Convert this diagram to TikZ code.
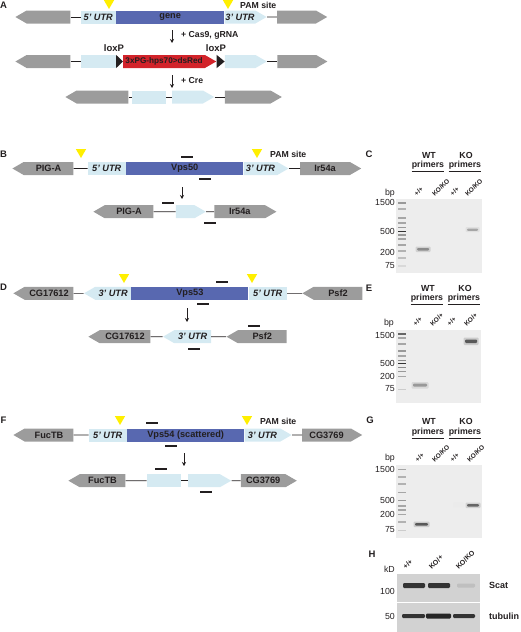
\documentclass[tikz,border=0pt]{standalone}
\usepackage{fontspec}
\setmainfont{Liberation Sans}
\usetikzlibrary{positioning,arrows.meta,shapes.geometric,shapes.symbols,calc}

\definecolor{genegray}{HTML}{9C9C9C}
\definecolor{utrblue}{HTML}{D5EAF2}
\definecolor{cdsblue}{HTML}{5868B0}
\definecolor{dsred}{HTML}{D2232A}
\definecolor{pamyellow}{HTML}{FFEF00}
\definecolor{gelbg}{HTML}{EDEDED}
\definecolor{blotbg}{HTML}{D2D2D2}
\definecolor{ink}{HTML}{231F20}

\begin{document}
\begin{tikzpicture}[
        x=1pt, y=-1pt,
        font=\fontsize{9.2}{11}\selectfont\bfseries, text=ink,
        nb/.style={signal, signal pointer angle=60, fill=genegray, minimum height=13pt, inner sep=0pt},
        nbw/.style={nb, signal to=west},
        nbe/.style={nb, signal to=east},
        utr/.style={rectangle, fill=utrblue, minimum height=13pt, inner sep=0pt, font=\fontsize{9.2}{11}\selectfont\bfseries\itshape},
        utrw/.style={utr, signal, signal pointer angle=60, signal to=west},
        utre/.style={utr, signal, signal pointer angle=60, signal to=east},
        cds/.style={rectangle, fill=cdsblue, minimum height=13pt, inner sep=0pt},
        link/.style={draw=ink, line width=0.6pt},
        pam/.style={regular polygon, regular polygon sides=3, shape border rotate=180, fill=pamyellow, minimum size=12pt, inner sep=0pt},
        primer/.style={rectangle, fill=ink, minimum width=12pt, minimum height=1.8pt, inner sep=0pt},
        line/.style={-{Stealth[length=4pt, width=4pt]}, line width=0.7pt, draw=ink},
        panel/.style={inner sep=0pt, font=\fontsize{9.5}{11}\selectfont\bfseries},
        note/.style={anchor=west, inner sep=0pt, font=\fontsize{8.7}{10}\selectfont\bfseries},
        hd/.style={inner sep=0pt, font=\fontsize{8.8}{10}\selectfont\bfseries},
        ul/.style={draw=ink, line width=0.6pt},
        lane/.style={rotate=45, anchor=south west, inner sep=0pt, font=\fontsize{6.5}{7}\selectfont\bfseries},
        mk/.style={anchor=east, inner sep=0pt, font=\fontsize{8.8}{10}\selectfont},
        gel/.style={rectangle, fill=gelbg, inner sep=0pt, anchor=north west},
        blot/.style={rectangle, fill=blotbg, inner sep=0pt, anchor=north west}
    ]
    \useasboundingbox (0,0) rectangle (520,632);

    % ---- A: knock-in scheme
    \node[panel] (lA) at (3.5,5) {A};
    \node[nbw, minimum width=55pt, anchor=west] (gA1) at (15,17) {};
    \node[utr, minimum width=35pt, right=10pt of gA1] (u5A) {5' UTR};
    \node[cds, minimum width=108pt, right=0pt of u5A] (geneA) {gene};
    \node[utre, minimum width=42pt, right=0pt of geneA] (u3A) {3' UTR};
    \node[nbe, minimum width=50pt, right=10pt of u3A] (gA2) {};
    \draw[link] (gA1) -- (u5A);
    \draw[link] (u3A) -- (gA2);
    \node[pam] (pA1) at (109,3) {};
    \node[pam] (pA2) at (228,3) {};
    \node[note] (pamA) at (240,5.5) {PAM site};

    \coordinate (a1) at (172,30);
    \draw[line] (a1) -- ++(0,13);
    \node[note] (cas) at (181,35.5) {+ Cas9, gRNA};

    \node[nbw, minimum width=55pt, anchor=west] (gA3) at (15,61.5) {};
    \node[utr, minimum width=35pt, right=10pt of gA3] (u5A2) {};
    \node[nbe, fill=dsred, minimum width=93pt, right=7pt of u5A2, font=\fontsize{8.2}{10}\selectfont\bfseries] (red) {3xPG-hps70>dsRed};
    \node[utre, minimum width=42pt, right=8pt of red] (u3A2) {};
    \node[nbe, minimum width=50pt, right=10pt of u3A2] (gA4) {};
    \draw[link] (gA3) -- (u5A2);
    \draw[link] (u3A2) -- (gA4);
    \fill[ink] (u5A2.north east) -- (u5A2.south east) -- (red.west) -- cycle;
    \fill[ink] (red.east |- red.north) -- (red.east |- red.south) -- (u3A2.west) -- cycle;
    \node[hd, font=\fontsize{9.5}{11}\selectfont\bfseries] (lox1) at (114,48) {loxP};
    \node[hd, font=\fontsize{9.5}{11}\selectfont\bfseries] (lox2) at (216,48) {loxP};

    \coordinate (a2) at (172,75);
    \draw[line] (a2) -- ++(0,13);
    \node[note] (cre) at (181,80.5) {+ Cre};

    \node[nbw, minimum width=63pt, anchor=west] (gA5) at (65,97) {};
    \node[utr, minimum width=34pt, right=3pt of gA5] (u5A3) {};
    \node[utre, minimum width=42pt, right=6pt of u5A3] (u3A3) {};
    \node[nbe, minimum width=57pt, right=10pt of u3A3] (gA6) {};
    \draw[link] (gA5) -- (u5A3);
    \draw[link] (u5A3) -- (u3A3);
    \draw[link] (u3A3) -- (gA6);

    % ---- B: Vps50
    \node[panel] (lB) at (3.5,154) {B};
    \node[nbw, minimum width=61pt, anchor=west] (pigB) at (12,168.5) {PIG-A};
    \node[utr, minimum width=38pt, right=14pt of pigB] (u5B) {5' UTR};
    \node[cds, minimum width=117pt, right=0pt of u5B] (vpsB) {Vps50};
    \node[utre, minimum width=45pt, right=0pt of vpsB] (u3B) {3' UTR};
    \node[nbe, minimum width=61pt, right=11pt of u3B] (irB) {Ir54a};
    \draw[link] (pigB) -- (u5B);
    \draw[link] (u3B) -- (irB);
    \node[pam] (pB1) at (81,152) {};
    \node[pam] (pB2) at (257,152) {};
    \node[note] (pamB) at (270,154.5) {PAM site};
    \node[primer] (fB) at (186.5,156.7) {};
    \node[primer] (rB) at (205,179) {};

    \coordinate (b1) at (182,187);
    \draw[line] (b1) -- ++(0,12);

    \node[nbw, minimum width=60pt, anchor=west] (pigB2) at (93,211.7) {PIG-A};
    \node[utre, minimum width=30pt, right=22pt of pigB2] (u3B2) {};
    \node[nbe, minimum width=62pt, right=8pt of u3B2] (irB2) {Ir54a};
    \draw[link] (pigB2) -- (u3B2);
    \draw[link] (u3B2) -- (irB2);
    \node[primer] (fB2) at (168,202.7) {};
    \node[primer] (rB2) at (210,223) {};

    % ---- D: Vps53
    \node[panel] (lD) at (3.5,287) {D};
    \node[nbw, minimum width=60pt, anchor=west] (cgD) at (13,293.3) {CG17612};
    \node[utrw, minimum width=47pt, right=10pt of cgD] (u3D) {3' UTR};
    \node[cds, minimum width=117pt, right=0pt of u3D] (vpsD) {Vps53};
    \node[utr, minimum width=38pt, right=0pt of vpsD] (u5D) {5' UTR};
    \node[nbw, minimum width=60pt, right=15pt of u5D] (psfD) {Psf2};
    \draw[link] (cgD) -- (u3D);
    \draw[link] (u5D) -- (psfD);
    \node[pam] (pD1) at (124,277) {};
    \node[pam] (pD2) at (252,277) {};
    \node[primer] (fD) at (222,281.7) {};
    \node[primer] (rD) at (203,304) {};

    \coordinate (d1) at (187,308);
    \draw[line] (d1) -- ++(0,14);

    \node[nbw, minimum width=62pt, anchor=west] (cgD2) at (88,336.7) {CG17612};
    \node[utrw, minimum width=48pt, right=12pt of cgD2] (u3D2) {3' UTR};
    \node[nbw, minimum width=60pt, right=15pt of u3D2] (psfD2) {Psf2};
    \draw[link] (cgD2) -- (u3D2);
    \draw[link] (u3D2) -- (psfD2);
    \node[primer] (fD2) at (254,326) {};
    \node[primer] (rD2) at (194,349) {};

    % ---- F: Vps54 (scattered)
    \node[panel] (lF) at (3.5,420) {F};
    \node[nbw, minimum width=60pt, anchor=west] (fucF) at (13,435) {FucTB};
    \node[utr, minimum width=38pt, right=15pt of fucF] (u5F) {5' UTR};
    \node[cds, minimum width=117pt, right=0pt of u5F] (vpsF) {Vps54 (scattered)};
    \node[utre, minimum width=47pt, right=0pt of vpsF] (u3F) {3' UTR};
    \node[nbe, minimum width=60pt, right=10pt of u3F] (cgF) {CG3769};
    \draw[link] (fucF) -- (u5F);
    \draw[link] (u3F) -- (cgF);
    \node[pam] (pF1) at (120,419) {};
    \node[pam] (pF2) at (247,419) {};
    \node[note] (pamF) at (260,421) {PAM site};
    \node[primer] (fF) at (152,423) {};
    \node[primer] (rF) at (171,446) {};

    \coordinate (f1) at (184,453);
    \draw[line] (f1) -- ++(0,13);

    \node[nbw, minimum width=57pt, anchor=west] (fucF2) at (68,480.7) {FucTB};
    \node[utr, minimum width=34pt, right=21pt of fucF2] (u5F2) {};
    \node[utre, minimum width=43pt, right=7pt of u5F2] (u3F2) {};
    \node[nbe, minimum width=56pt, right=9pt of u3F2] (cgF2) {CG3769};
    \draw[link] (fucF2) -- (u5F2);
    \draw[link] (u5F2) -- (u3F2);
    \draw[link] (u3F2) -- (cgF2);
    \node[primer] (fF2) at (161,469.3) {};
    \node[primer] (rF2) at (206,491.7) {};

    % ---- C: PCR, Vps50
    \node[panel] (lC) at (369,154) {C};
    \node[hd] (wtC) at (429,155) {WT};
    \node[hd] (pwC) at (428,165) {primers};
    \node[hd] (koC) at (466,155) {KO};
    \node[hd] (pkC) at (465,165) {primers};
    \draw[ul] ([yshift=-2pt]pwC.south west) -- ([yshift=-2pt]pwC.south east);
    \draw[ul] ([yshift=-2pt]pkC.south west) -- ([yshift=-2pt]pkC.south east);
    \node[lane] (c1) at (417,197) {+/+};
    \node[lane] (c2) at (435,197) {KO/KO};
    \node[lane] (c3) at (453,197) {+/+};
    \node[lane] (c4) at (468,197) {KO/KO};
    \node[mk] (bpC) at (395,193) {bp};
    \node[gel, minimum width=86pt, minimum height=74pt] (gelC) at (396,199) {};
    \foreach \y/\s in {202/40, 208/30, 217/35, 222/35, 226.5/40, 230.5/80, 234/40, 238/35, 244/35, 250/30, 257/25, 265/15}
        \fill[black!\s] (397.5,\y) rectangle (405.5,\y+1.7);
    \node[mk] at (395,202.5) {1500};
    \node[mk] at (395,231) {500};
    \node[mk] at (395,252) {200};
    \node[mk] at (395,265.5) {75};
    \fill[black!18, rounded corners=1pt] (415.5,246.5) rectangle (430.5,252);
    \fill[black!45, rounded corners=1pt] (417,248) rectangle (429,250.5);
    \fill[black!12, rounded corners=1pt] (465.5,227) rectangle (479.5,232);
    \fill[black!35, rounded corners=1pt] (467,228.5) rectangle (478,230.8);

    % ---- E: PCR, Vps53
    \node[panel] (lE) at (369,288) {E};
    \node[hd] (wtE) at (428,288) {WT};
    \node[hd] (pwE) at (427,298) {primers};
    \node[hd] (koE) at (465,288) {KO};
    \node[hd] (pkE) at (464,298) {primers};
    \draw[ul] ([yshift=-2pt]pwE.south west) -- ([yshift=-2pt]pwE.south east);
    \draw[ul] ([yshift=-2pt]pkE.south west) -- ([yshift=-2pt]pkE.south east);
    \node[lane] (e1) at (416,327) {+/+};
    \node[lane] (e2) at (433,327) {KO/+};
    \node[lane] (e3) at (450,327) {+/+};
    \node[lane] (e4) at (467,327) {KO/+};
    \node[mk] (bpE) at (394,323) {bp};
    \node[gel, minimum width=85pt, minimum height=73pt] (gelE) at (396,330) {};
    \foreach \y/\s in {333/60, 337/35, 343/35, 350/40, 355/35, 359.5/45, 362.5/80, 366.5/45, 370.5/40, 375.5/35, 388.5/20}
        \fill[black!\s] (397.5,\y) rectangle (405.5,\y+1.7);
    \node[mk] at (395,335) {1500};
    \node[mk] at (395,363) {500};
    \node[mk] at (395,376) {200};
    \node[mk] at (395,389) {75};
    \fill[black!15, rounded corners=1pt] (411.5,382) rectangle (428.5,388.5);
    \fill[black!40, rounded corners=1pt] (413,383.5) rectangle (427,386.5);
    \fill[black!20, rounded corners=1pt] (463.5,337.5) rectangle (478.5,345);
    \fill[black!65, rounded corners=1pt] (465,339.5) rectangle (477,343);
    \fill[black!7, rounded corners=2pt] (407,394) rectangle (445,399);

    % ---- G: PCR, Vps54
    \node[panel] (lG) at (370,420) {G};
    \node[hd] (wtG) at (429,421) {WT};
    \node[hd] (pwG) at (428,432) {primers};
    \node[hd] (koG) at (466,421) {KO};
    \node[hd] (pkG) at (465,432) {primers};
    \draw[ul] ([yshift=-2pt]pwG.south west) -- ([yshift=-2pt]pwG.south east);
    \draw[ul] ([yshift=-2pt]pkG.south west) -- ([yshift=-2pt]pkG.south east);
    \node[lane] (g1) at (418,463) {+/+};
    \node[lane] (g2) at (435,463) {KO/KO};
    \node[lane] (g3) at (453,463) {+/+};
    \node[lane] (g4) at (470,463) {KO/KO};
    \node[mk] (bpG) at (395,458) {bp};
    \node[gel, minimum width=86pt, minimum height=73pt] (gelG) at (396,465) {};
    \foreach \y/\s in {468.5/35, 476/30, 483/30, 491.5/35, 499.5/40, 505/35, 509/35, 513.5/35, 521/30, 529.5/20}
        \fill[black!\s] (397.5,\y) rectangle (405.5,\y+1.7);
    \node[mk] at (395,469.5) {1500};
    \node[mk] at (395,500) {500};
    \node[mk] at (395,514) {200};
    \node[mk] at (395,530) {75};
    \fill[black!20, rounded corners=1pt] (413.5,521.5) rectangle (429.5,527);
    \fill[black!65, rounded corners=1pt] (415,523) rectangle (428,525.5);
    \fill[black!18, rounded corners=1pt] (465.5,502.5) rectangle (480.5,508);
    \fill[black!60, rounded corners=1pt] (467,504) rectangle (479,506.5);
    \fill[black!8, rounded corners=1pt] (453,502) rectangle (464,507);

    % ---- H: western blot
    \node[panel] (lH) at (372,554) {H};
    \node[lane, font=\fontsize{7}{8}\selectfont\bfseries] (h1) at (406,570) {+/+};
    \node[lane, font=\fontsize{7}{8}\selectfont\bfseries] (h2) at (432,570) {KO/+};
    \node[lane, font=\fontsize{7}{8}\selectfont\bfseries] (h3) at (459,570) {KO/KO};
    \node[mk] (kD) at (395,569) {kD};
    \node[blot, minimum width=83pt, minimum height=28pt] (scat) at (397,574) {};
    \node[blot, minimum width=83pt, minimum height=29pt] (tub) at (397,603) {};
    \fill[black!80, rounded corners=1.2pt] (403,583) rectangle (425,588);
    \fill[black!80, rounded corners=1.2pt] (428,583) rectangle (450,588);
    \fill[black!25, rounded corners=1.2pt] (457,583.5) rectangle (475,587.5);
    \fill[black!80, rounded corners=1.2pt] (402,614) rectangle (425,618);
    \fill[black!85, rounded corners=1.2pt] (426,613.5) rectangle (451,618.5);
    \fill[black!80, rounded corners=1.2pt] (453,614) rectangle (475,618);
    \node[mk] at (395,591) {100};
    \node[mk] at (395,616) {50};
    \node[note, font=\fontsize{9}{10}\selectfont\bfseries] (scatL) at (489,585) {Scat};
    \node[note, font=\fontsize{9}{10}\selectfont\bfseries] (tubL) at (489,616) {tubulin};
\end{tikzpicture}
\end{document}
